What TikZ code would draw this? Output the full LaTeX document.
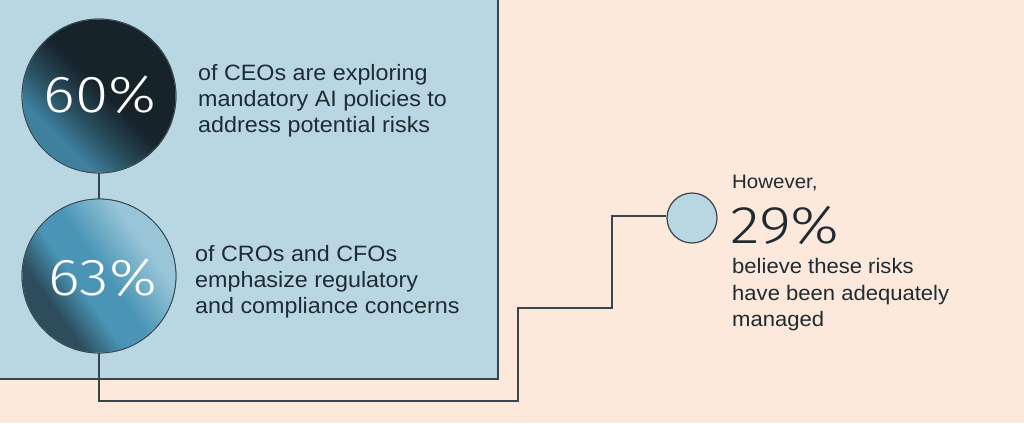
\documentclass[tikz,border=0pt]{standalone}
\usepackage{fontspec}
\setmainfont[FakeStretch=1.05]{Liberation Sans}
\newfontfamily\numfont[UprightFont=* Light, FakeStretch=1.16]{Fira Sans}
\definecolor{peach}{HTML}{FDE9DB}
\definecolor{panel}{HTML}{B9D6E3}
\definecolor{linec}{HTML}{36464F}
\definecolor{txt}{HTML}{1E2B33}
\definecolor{cA}{HTML}{3F809F}
\definecolor{cB}{HTML}{2A5264}
\definecolor{cC}{HTML}{17232B}
\definecolor{dA}{HTML}{2D4D5D}
\definecolor{dB}{HTML}{4A95B6}
\definecolor{dC}{HTML}{98C5D8}
\pgfdeclareverticalshading{shadeone}{100bp}{color(0bp)=(cA); color(31bp)=(cA); color(40bp)=(cB); color(52bp)=(cC); color(100bp)=(cC)}
\pgfdeclareverticalshading{shadetwo}{100bp}{color(0bp)=(dA); color(32bp)=(dA); color(43bp)=(dB); color(52bp)=(dB); color(68bp)=(dC); color(100bp)=(dC)}
\tikzset{
  body/.style={anchor=base west, inner sep=0pt, text=txt, font=\fontsize{22.2}{26}\selectfont},
  rbody/.style={body, font=\fontsize{21}{26}\selectfont},
  big/.style={inner sep=0pt, text=white, font=\numfont\fontsize{52}{52}\selectfont},
  conn/.style={draw=linec, line width=1.4pt},
  ring/.style={circle, minimum size=154pt, inner sep=0pt, draw=linec, line width=0.8pt},
}
\begin{document}
\begin{tikzpicture}[x=1pt,y=-1pt]
\useasboundingbox (0,0) rectangle (1024,423);
\fill[peach] (0,0) rectangle (1024,423);
\fill[panel] (-5,-5) rectangle (498,379);
\draw[conn] (-5,379) -- (498,379) -- (498,-5);
% circles
\node[ring] (c1) at (99,96) {};
\node[ring] (c2) at (99,276) {};
\shade[shading=shadeone, shading angle=-45] (c1.center) circle (76.5pt);
\shade[shading=shadetwo, shading angle=-55] (c2.center) circle (76.5pt);
\draw[draw=linec, line width=0.8pt] (c1.center) circle (77pt);
\draw[draw=linec, line width=0.8pt] (c2.center) circle (77pt);
\node[circle, minimum size=50pt, inner sep=0pt, fill=panel, draw=linec, line width=1.2pt] (c3) at (692,218) {};
\coordinate (p1) at (99,401);
\coordinate (p2) at (518,401);
\coordinate (p3) at (518,308);
\coordinate (p4) at (612,308);
\coordinate (p5) at (612,216);
\draw[conn] (c1.south) -- (c2.north);
\draw[conn] (c2.south) -- (p1) -- (p2) -- (p3) -- (p4) -- (p5) -- (p5 -| c3.west);
% numbers
\node[big, anchor=base] (n1) at (100,112) {60\%};
\node[big, anchor=base] (n2) at (103,295) {63\%};
\node[big, anchor=base west, text=txt, font=\numfont\fontsize{53}{53}\selectfont] (n3) at (730,243) {29\%};
% texts
\node[body] (t1a) at (198,80) {of CEOs are exploring};
\node[body] (t1b) at (198,106) {mandatory AI policies to};
\node[body] (t1c) at (198,132) {address potential risks};
\node[body] (t2a) at (195,261) {of CROs and CFOs};
\node[body] (t2b) at (195,287) {emphasize regulatory};
\node[body] (t2c) at (195,313) {and compliance concerns};
\node[body, font=\fontsize{19.5}{22}\selectfont] (t3a) at (732,188) {However,};
\node[rbody] (t3b) at (732,273) {believe these risks};
\node[rbody] (t3c) at (732,300) {have been adequately};
\node[rbody] (t3d) at (732,326) {managed};
\end{tikzpicture}
\end{document}
